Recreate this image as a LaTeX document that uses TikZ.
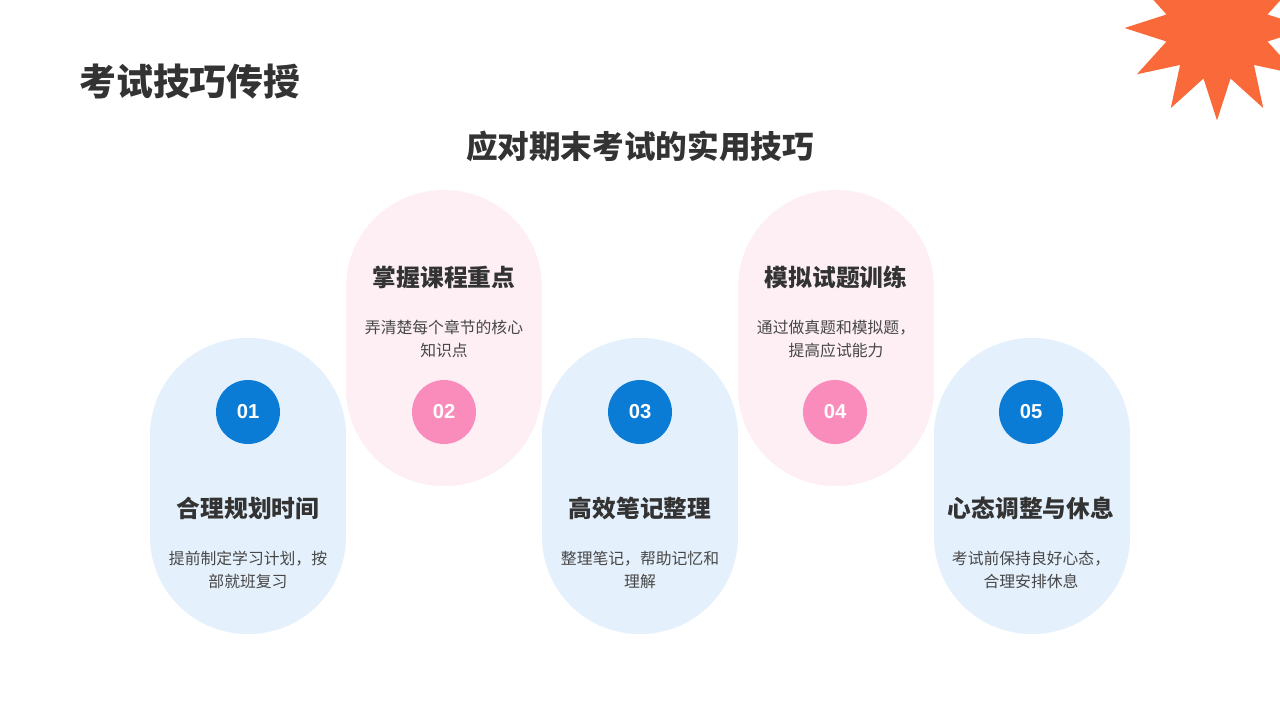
\documentclass[tikz,border=0pt]{standalone}
\usepackage{fontspec}
\setmainfont{Noto Sans CJK SC}
\newfontfamily\numfont{Liberation Sans}
\usetikzlibrary{shapes.geometric}
\definecolor{pillblue}{HTML}{E4F0FB}
\definecolor{pillpink}{HTML}{FDEFF4}
\definecolor{dotblue}{HTML}{0A7CD6}
\definecolor{dotpink}{HTML}{F98CBB}
\definecolor{burst}{HTML}{FA693A}
\definecolor{ink}{HTML}{333333}
\begin{document}
\begin{tikzpicture}[x=0.02cm,y=-0.02cm,
  pill/.style={rectangle,rounded corners=1.95cm,minimum width=3.92cm,minimum height=5.92cm,inner sep=0pt},
  dot/.style={circle,minimum size=1.28cm,inner sep=0pt,text=white,font=\numfont\fontsize{11.5}{13}\selectfont\bfseries},
  head/.style={text=ink,font=\fontsize{13.5}{16}\selectfont\bfseries},
  desc/.style={text=ink!90,align=center,font=\fontsize{9}{13}\selectfont}]
  \useasboundingbox (0,0) rectangle (1280,720);
  \fill[white] (0,0) rectangle (1280,720);
  \node[star,star points=12,star point ratio=1.77,minimum size=3.7cm,inner sep=0pt,fill=burst] (burst) at (1217,28) {};
  \node[anchor=west,text=ink,font=\fontsize{21}{24}\selectfont\bfseries] (title) at (73,82) {考试技巧传授};
  \node[text=ink,font=\fontsize{18}{22}\selectfont\bfseries] (subtitle) at (640,146) {应对期末考试的实用技巧};
  % pills
  \node[pill,fill=pillblue] (pillA) at (248,486) {};
  \node[pill,fill=pillblue] (pillC) at (640,486) {};
  \node[pill,fill=pillblue] (pillE) at (1032,486) {};
  \node[pill,fill=pillpink] (pillB) at (444,338) {};
  \node[pill,fill=pillpink] (pillD) at (836,338) {};
  % numbers
  \node[dot,fill=dotblue] (numA) at (248,412) {01};
  \node[dot,fill=dotpink] (numB) at (444,412) {02};
  \node[dot,fill=dotblue] (numC) at (640,412) {03};
  \node[dot,fill=dotpink] (numD) at (835,412) {04};
  \node[dot,fill=dotblue] (numE) at (1031,412) {05};
  % headings and notes
  \node[head] (headA) at (248,508) {合理规划时间};
  \node[desc] (descA) at (248,570) {提前制定学习计划，按\\部就班复习};
  \node[head] (headB) at (444,277) {掌握课程重点};
  \node[desc] (descB) at (444,339) {弄清楚每个章节的核心\\知识点};
  \node[head] (headC) at (640,508) {高效笔记整理};
  \node[desc] (descC) at (640,570) {整理笔记，帮助记忆和\\理解};
  \node[head] (headD) at (836,277) {模拟试题训练};
  \node[desc] (descD) at (836,339) {通过做真题和模拟题，\\提高应试能力};
  \node[head] (headE) at (1031,508) {心态调整与休息};
  \node[desc] (descE) at (1031,570) {考试前保持良好心态，\\合理安排休息};
\end{tikzpicture}
\end{document}
